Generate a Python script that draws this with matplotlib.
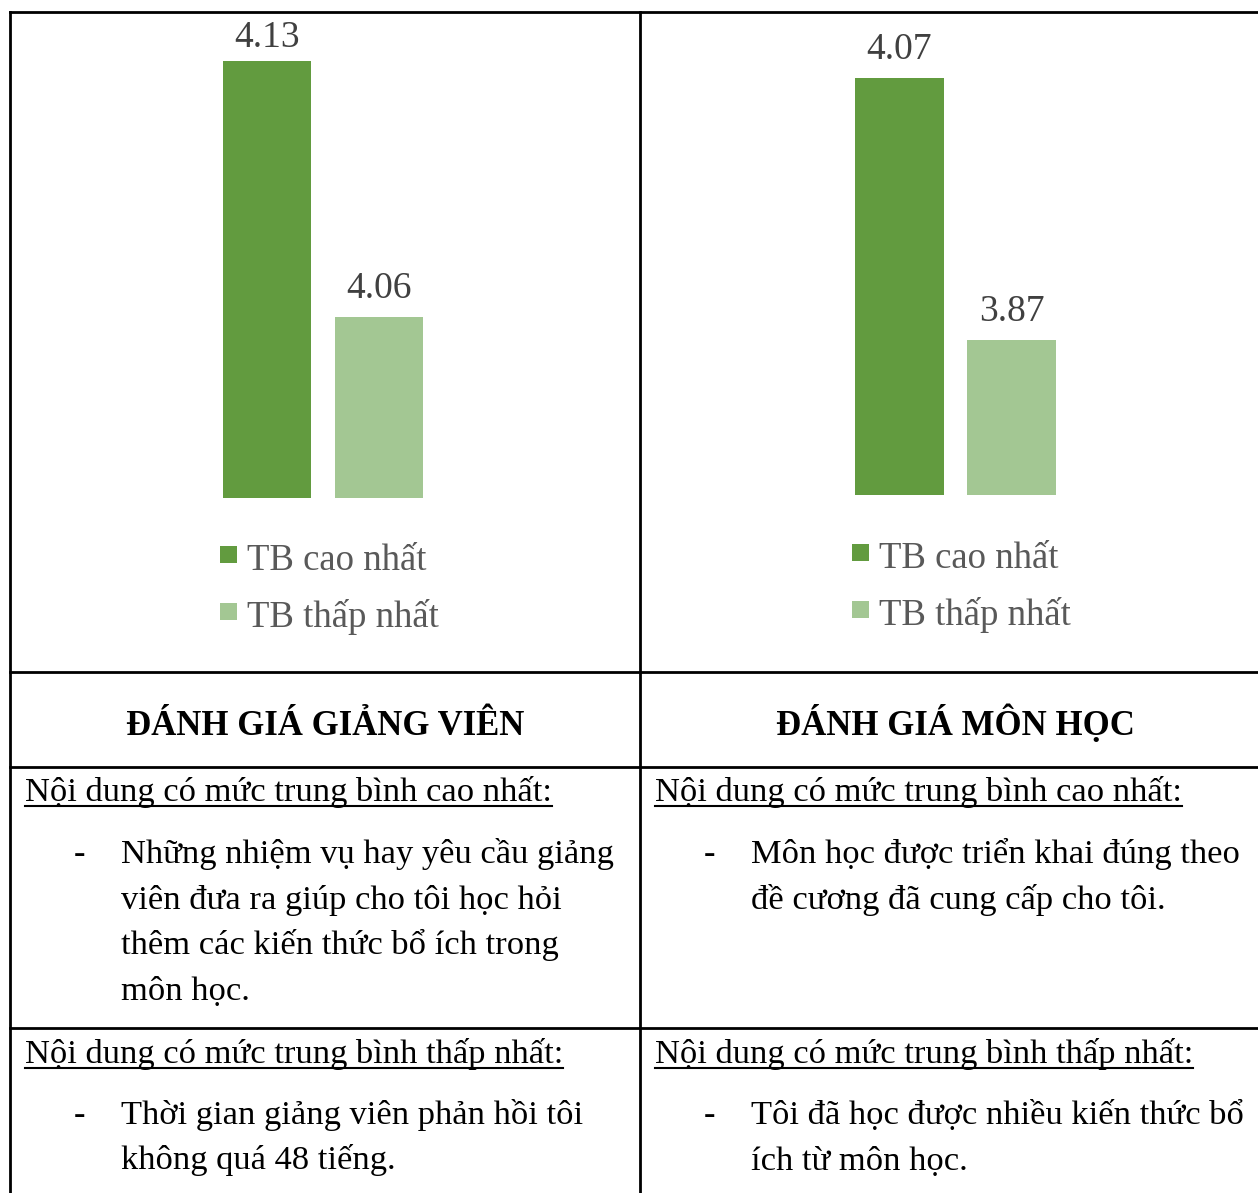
import matplotlib
matplotlib.use("Agg")
import matplotlib.pyplot as plt
from matplotlib.patches import Rectangle
from matplotlib.lines import Line2D

plt.rcParams['font.family'] = ['Liberation Serif', 'DejaVu Serif']

# ---------------- data ----------------
series_names = ["TB cao nhất", "TB thấp nhất"]
lecturer_values = [4.13, 4.06]
course_values = [4.07, 3.87]
header_left = "ĐÁNH GIÁ GIẢNG VIÊN"
header_right = "ĐÁNH GIÁ MÔN HỌC"
high_label = "Nội dung có mức trung bình cao nhất:"
low_label = "Nội dung có mức trung bình thấp nhất:"
left_high_lines = ["Những nhiệm vụ hay yêu cầu giảng",
                   "viên đưa ra giúp cho tôi học hỏi",
                   "thêm các kiến thức bổ ích trong",
                   "môn học."]
left_low_lines = ["Thời gian giảng viên phản hồi tôi",
                  "không quá 48 tiếng."]
right_high_lines = ["Môn học được triển khai đúng theo",
                    "đề cương đã cung cấp cho tôi."]
right_low_lines = ["Tôi đã học được nhiều kiến thức bổ",
                   "ích từ môn học."]

# ---------------- style ----------------
W, H = 1258, 1193
colors = ["#629B3F", "#A3C793"]
label_color = "#404040"
legend_color = "#595959"
FS = 24.8

fig = plt.figure(figsize=(W / 100, H / 100), dpi=100)
fig.patch.set_facecolor("white")


def fx(x):
    return x / W


def fy(y):
    return 1 - y / H


def add_axes_px(x0, y0, x1, y1):
    return fig.add_axes([fx(x0), fy(y1), fx(x1 - x0), (y1 - y0) / H])


def bar_panel(ax, values, ylim):
    xs = list(range(len(values)))
    bars = ax.bar(xs, values, width=0.786, color=colors, bottom=0)
    ax.set_xlim(-0.5, len(values) - 0.5)
    ax.set_ylim(*ylim)
    ax.axis("off")
    fig.canvas.draw()
    for b, v in zip(bars, values):
        xc = b.get_x() + b.get_width() / 2
        px, top_px = ax.transData.transform((xc, v))
        base_px = min(top_px + 19, H - 47)  # keep label inside chart area
        fig.text(px / W, base_px / H, f"{v:.2f}", ha="center",
                 va="baseline", fontsize=27, color=label_color)


axL = add_axes_px(211, 20, 435, 498)
bar_panel(axL, lecturer_values, (4.0105, 4.1412))
axR = add_axes_px(843.5, 20, 1067.5, 495)
bar_panel(axR, course_values, (3.752, 4.1146))


def legend_px(x_sq, y_rows):
    for name, c, yb in zip(series_names, colors, y_rows):
        fig.patches.append(Rectangle((fx(x_sq), fy(yb - 7)), 17 / W, 17 / H,
                                     transform=fig.transFigure,
                                     facecolor=c, edgecolor="none"))
        fig.text(fx(x_sq + 27), fy(yb), name, fontsize=26.5,
                 color=legend_color, ha="left", va="baseline")


legend_px(220, [570, 627])
legend_px(852, [568, 625])

# ---------------- table lines ----------------
lw = 2.0


def hline(y, x0=10, x1=W):
    fig.lines.append(Line2D([fx(x0), fx(x1)], [fy(y), fy(y)],
                            transform=fig.transFigure, color="black", lw=lw))


def vline(x, y0=12, y1=H):
    fig.lines.append(Line2D([fx(x), fx(x)], [fy(y0), fy(y1)],
                            transform=fig.transFigure, color="black", lw=lw))


hline(12)
hline(672)
hline(767)
hline(1028)
vline(10)
vline(640)

# ---------------- table text ----------------
fig.text(fx(325), fy(735), header_left, fontsize=25, fontweight="bold",
         ha="center", va="baseline", color="black")
fig.text(fx(955), fy(735), header_right, fontsize=25, fontweight="bold",
         ha="center", va="baseline", color="black")

underlined = []
for x0 in (25, 655):
    underlined.append(fig.text(fx(x0), fy(801), high_label, fontsize=FS,
                               ha="left", va="baseline", color="black"))
    underlined.append(fig.text(fx(x0), fy(1063), low_label, fontsize=FS,
                               ha="left", va="baseline", color="black"))


def bullet_block(x_dash, x_text, y_first, lines, step=45.5):
    fig.text(fx(x_dash), fy(y_first), "-", fontsize=FS, ha="left",
             va="baseline", color="black")
    for i, line in enumerate(lines):
        fig.text(fx(x_text), fy(y_first + i * step), line, fontsize=FS,
                 ha="left", va="baseline", color="black")


bullet_block(74, 121, 863, left_high_lines)
bullet_block(74, 121, 1124, left_low_lines)
bullet_block(704, 751, 863, right_high_lines)
bullet_block(704, 751, 1124, right_low_lines)

fig.canvas.draw()
renderer = fig.canvas.get_renderer()
for t in underlined:
    bb = t.get_window_extent(renderer)
    yy = t.get_position()[1] - 5 / H
    fig.lines.append(Line2D([bb.x0 / W, bb.x1 / W], [yy, yy],
                            transform=fig.transFigure, color="black", lw=1.5))

fig.savefig("out.png", dpi=100, facecolor="white")
